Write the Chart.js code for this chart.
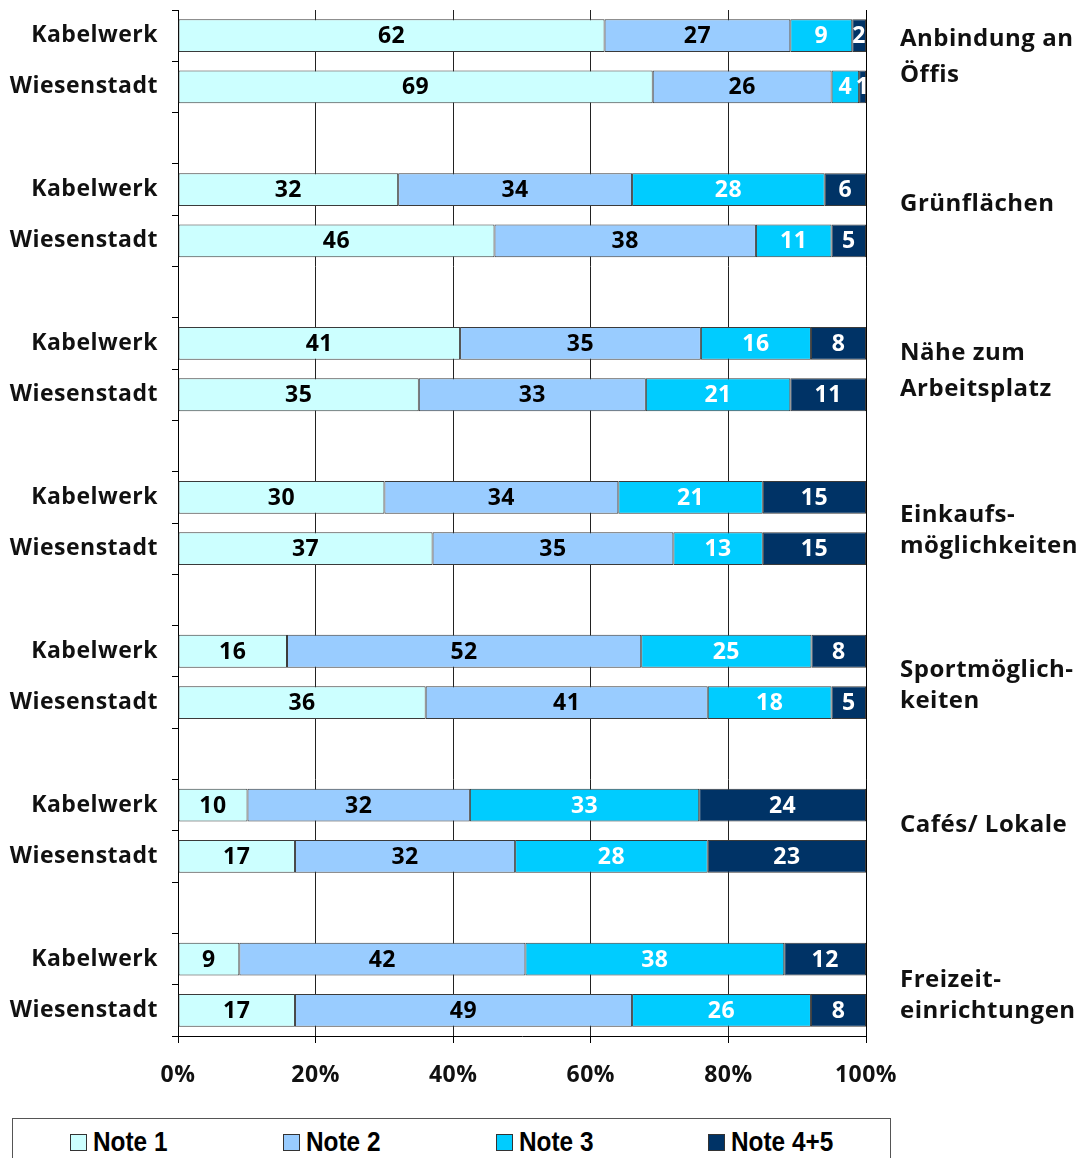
<!DOCTYPE html>
<html>
<head>
<meta charset="utf-8">
<script src="https://cdn.jsdelivr.net/npm/chart.js@4/dist/chart.umd.min.js"></script>
<style>
  html, body { margin: 0; padding: 0; background: #fff; }
  #wrap { position: relative; width: 1086px; height: 1158px; overflow: hidden; }
  #c { position: absolute; left: 0; top: 0; }
  #legend {
    position: absolute; left: 12px; top: 1118px; width: 879px; height: 60px;
    border: 1px solid #555; box-sizing: border-box; background: #fff;
    font-family: "Liberation Sans", Arial, sans-serif;
    font-weight: bold; font-size: 28px; color: #000;
  }
  .li { position: absolute; top: 9px; display: flex; align-items: center; white-space: nowrap; }
  .sw { width: 15px; height: 15px; border: 1px solid #333; margin-right: 6px; }
  .tx { display: inline-block; transform: scaleX(0.87); transform-origin: left center; line-height: 28px; }
</style>
</head>
<body>
<div id="wrap">
  <canvas id="c" width="1086" height="1158"></canvas>
  <div id="legend"></div>
</div>
<script>
// ---- data ----
const groups = [
  ['Anbindung an', 'Öffis'],
  ['Grünflächen'],
  ['Nähe zum', 'Arbeitsplatz'],
  ['Einkaufs-', 'möglichkeiten'],
  ['Sportmöglich-', 'keiten'],
  ['Cafés/ Lokale'],
  ['Freizeit-', 'einrichtungen']
];
const sites = ['Kabelwerk', 'Wiesenstadt'];
const seriesNames = ['Note 1', 'Note 2', 'Note 3', 'Note 4+5'];
// order per group: Kabelwerk, Wiesenstadt
const note1  = [62, 69, 32, 46, 41, 35, 30, 37, 16, 36, 10, 17,  9, 17];
const note2  = [27, 26, 34, 38, 35, 33, 34, 35, 52, 41, 32, 32, 42, 49];
const note3  = [ 9,  4, 28, 11, 16, 21, 21, 13, 25, 18, 33, 28, 38, 26];
const note45 = [ 2,  1,  6,  5,  8, 11, 15, 15,  8,  5, 24, 23, 12,  8];
const xTicks = ['0%', '20%', '40%', '60%', '80%', '100%'];

const colors = ['#CCFFFF', '#99CCFF', '#00CCFF', '#003366'];
const labelColors = ['#000', '#000', '#fff', '#fff'];

// text placement of the right-hand group labels (offset from group centre, line spacing)
const groupLabelShift = [-4, -11, 2, 8, 9, -6, 11];
const groupLineGap    = [36, 0, 36, 31, 31, 0, 31];

// ---- build slots (K, W, gap) ----
const raw = [note1, note2, note3, note45];
const labels = [];
const slotIndex = [];
groups.forEach((g, gi) => {
  sites.forEach((s, si) => { labels.push(s); slotIndex.push(gi * 2 + si); });
  if (gi < groups.length - 1) { labels.push(''); slotIndex.push(-1); }
});
const totals = note1.map((_, i) => raw.reduce((a, arr) => a + arr[i], 0));
const datasets = raw.map((arr, k) => ({
  label: seriesNames[k],
  data: slotIndex.map(i => i < 0 ? null : arr[i] / totals[i] * 100),
  rawValues: slotIndex.map(i => i < 0 ? null : arr[i]),
  backgroundColor: colors[k],
  borderColor: '#3a3a3a',
  borderWidth: 1,
  borderSkipped: false,
  barPercentage: 0.64,
  categoryPercentage: 1.0
}));

const FONT = '"Open Sans", "DejaVu Sans", sans-serif';

const spacing = {
  id: 'spacing',
  beforeDraw(chart) { chart.ctx.letterSpacing = '0.5px'; }
};

const valueLabels = {
  id: 'valueLabels',
  afterDatasetsDraw(chart) {
    const ctx = chart.ctx;
    ctx.save();
    ctx.letterSpacing = '0.5px';
    ctx.font = 'bold 23px ' + FONT;
    ctx.textAlign = 'center';
    ctx.textBaseline = 'middle';
    chart.data.datasets.forEach((ds, k) => {
      const meta = chart.getDatasetMeta(k);
      meta.data.forEach((el, i) => {
        const v = ds.rawValues[i];
        if (v == null) return;
        const p = el.getCenterPoint();
        ctx.fillStyle = labelColors[k];
        ctx.fillText(String(v), p.x, p.y + 1);
      });
    });
    ctx.restore();
  }
};

const groupLabels = {
  id: 'groupLabels',
  afterDraw(chart) {
    const ctx = chart.ctx;
    const y = chart.scales.y;
    ctx.save();
    ctx.letterSpacing = '0.5px';
    ctx.font = 'bold 24px ' + FONT;
    ctx.fillStyle = '#111';
    ctx.textAlign = 'left';
    ctx.textBaseline = 'middle';
    groups.forEach((g, gi) => {
      const yc = (y.getPixelForValue(gi * 3) + y.getPixelForValue(gi * 3 + 1)) / 2 + groupLabelShift[gi];
      const lh = groupLineGap[gi];
      const start = yc - (g.length - 1) * lh / 2;
      g.forEach((line, li) => ctx.fillText(line, 900, start + li * lh));
    });
    ctx.restore();
  }
};

const rightBorder = {
  id: 'rightBorder',
  afterDatasetsDraw(chart) {
    const a = chart.chartArea, ctx = chart.ctx;
    ctx.save();
    ctx.strokeStyle = '#000';
    ctx.lineWidth = 1;
    ctx.beginPath();
    ctx.moveTo(Math.round(a.right) + 0.5, a.top);
    ctx.lineTo(Math.round(a.right) + 0.5, a.bottom);
    ctx.stroke();
    ctx.restore();
  }
};

new Chart(document.getElementById('c'), {
  type: 'bar',
  data: { labels, datasets },
  options: {
    indexAxis: 'y',
    responsive: false,
    animation: false,
    layout: { padding: { top: 10, right: 220, bottom: 62, left: 0 } },
    plugins: { legend: { display: false }, tooltip: { enabled: false } },
    scales: {
      x: {
        stacked: true, min: 0, max: 100,
        ticks: {
          stepSize: 20,
          callback: (v, i) => xTicks[i],
          font: { family: FONT, size: 23, weight: 'bold' },
          color: '#111', padding: 19
        },
        grid: { color: '#222', lineWidth: 1, drawTicks: true, tickLength: 7, tickColor: '#000' },
        border: { display: true, color: '#000', width: 1 },
        afterFit(s) { s.height = 60; s.paddingLeft = 0; s.paddingRight = 0; }
      },
      y: {
        stacked: true,
        ticks: {
          font: { family: FONT, size: 23, weight: 'bold' },
          color: '#111', padding: 14, autoSkip: false
        },
        grid: { drawOnChartArea: false, drawTicks: true, tickLength: 6, tickColor: '#000', offset: true },
        border: { display: true, color: '#000', width: 1 },
        afterFit(s) { s.width = 178; s.paddingTop = 0; s.paddingBottom = 0; }
      }
    }
  },
  plugins: [spacing, valueLabels, groupLabels, rightBorder]
});

// ---- HTML legend ----
const legendX = [57, 270, 483, 695];
const leg = document.getElementById('legend');
seriesNames.forEach((n, k) => {
  const d = document.createElement('div');
  d.className = 'li';
  d.style.left = legendX[k] + 'px';
  d.innerHTML = '<span class="sw" style="background:' + colors[k] + '"></span><span class="tx">' + n + '</span>';
  leg.appendChild(d);
});
</script>
</body>
</html>
